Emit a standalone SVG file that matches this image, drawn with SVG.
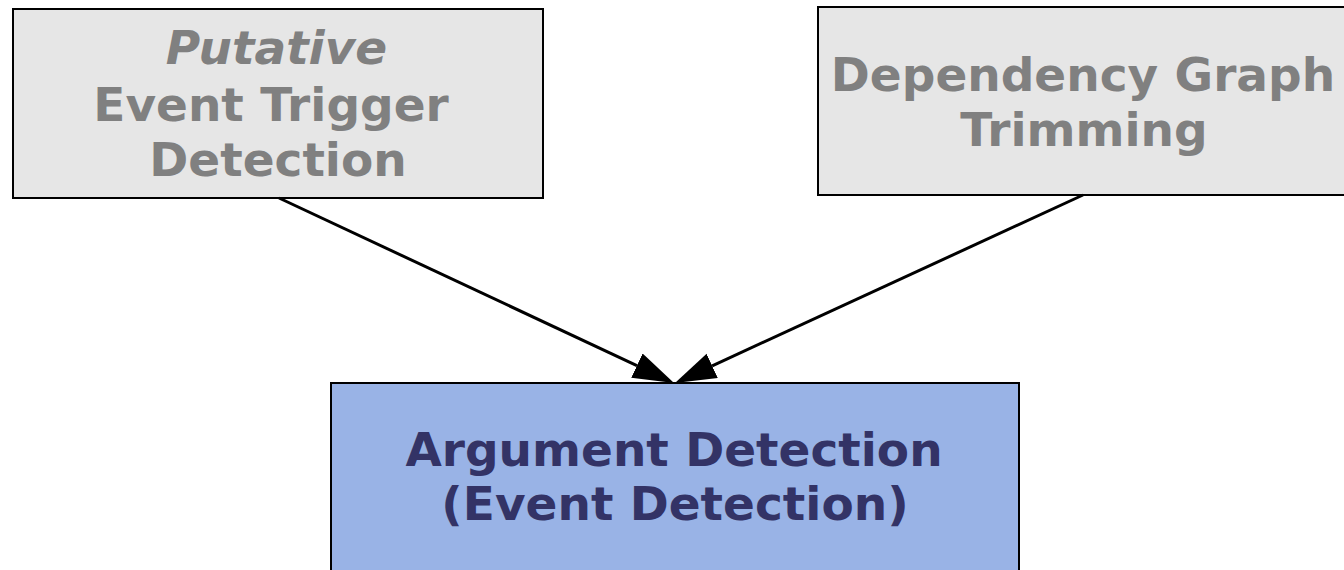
<svg xmlns="http://www.w3.org/2000/svg" width="1344" height="570" viewBox="0 0 1344 570">
  <style>
    .box { stroke: #000000; stroke-width: 2; }
    .gray { fill: #e6e6e6; }
    .blue { fill: #99b3e6; }
    .t { font-family: "DejaVu Sans", "Liberation Sans", sans-serif; font-weight: bold; font-size: 47px; text-anchor: middle; }
    .tg { fill: #808080; }
    .tb { fill: #333366; }
    .conn { stroke: #000000; stroke-width: 3; fill: none; }
  </style>
  <defs>
    <marker id="arrow" markerUnits="userSpaceOnUse" markerWidth="42" markerHeight="28" refX="0" refY="13.4" orient="auto" viewBox="0 0 42 28">
      <path d="M0,0 L41,13.4 L0,26.8 Z" fill="#000000"/>
    </marker>
  </defs>
  <rect width="1344" height="570" fill="#ffffff"/>
  <g id="putative">
    <rect class="box gray" x="13" y="9" width="530" height="189"/>
    <text class="t tg" x="276.5" y="64" font-style="italic">Putative</text>
    <text class="t tg" x="271" y="120.5">Event Trigger</text>
    <text class="t tg" x="278" y="176">Detection</text>
  </g>
  <g id="trimming">
    <rect class="box gray" x="818" y="7" width="540" height="188"/>
    <text class="t tg" x="1083" y="90.5">Dependency Graph</text>
    <text class="t tg" x="1084" y="145.5">Trimming</text>
  </g>
  <g id="argument">
    <rect class="box blue" x="331" y="383" width="688" height="200"/>
    <text class="t tb" x="674" y="466">Argument Detection</text>
    <text class="t tb" x="675" y="520">(Event Detection)</text>
  </g>
  <g id="connectors">
    <line class="conn" x1="279" y1="198" x2="636.9" y2="365.6" marker-end="url(#arrow)"/>
    <line class="conn" x1="1083" y1="195" x2="712.2" y2="365.8" marker-end="url(#arrow)"/>
  </g>
</svg>
